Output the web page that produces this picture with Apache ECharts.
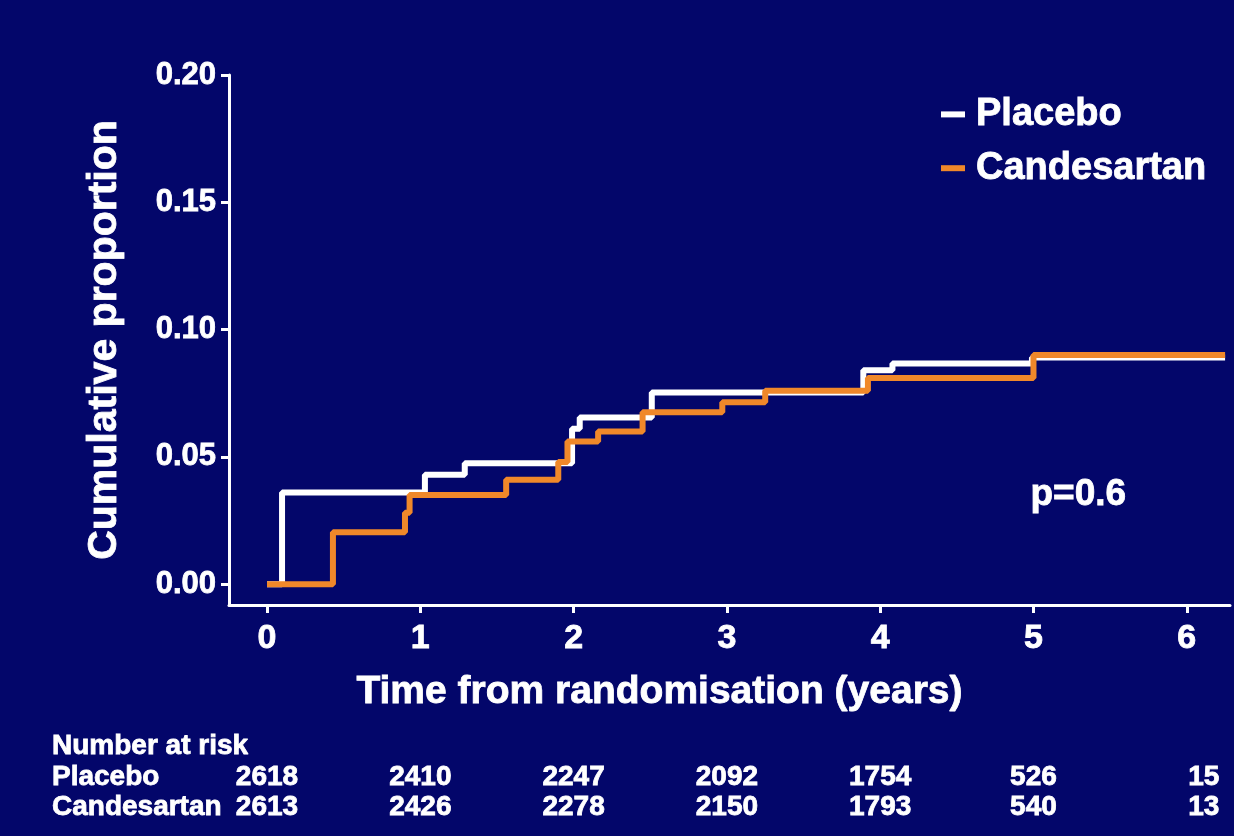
<!DOCTYPE html>
<html>
<head>
<meta charset="utf-8">
<title>Cumulative proportion – Placebo vs Candesartan</title>
<script src="https://cdn.jsdelivr.net/npm/echarts@6/dist/echarts.min.js"></script>
<style>
  html, body { margin: 0; padding: 0; background: #03066a; }
  #chart { width: 1234px; height: 836px; }
</style>
</head>
<body>
<div id="chart"></div>
<script>
// Kaplan–Meier style step curves: event time (years) and cumulative proportion
const placeboTimes = [0, 0.098, 1.03, 1.29, 1.99, 2.04, 2.51, 3.89, 4.08, 4.99, 6.25];
const placeboProp  = [0, 0.036, 0.043, 0.0475, 0.061, 0.0655, 0.0753, 0.084, 0.0867, 0.089, 0.089];

const candesartanTimes = [0, 0.43, 0.90, 0.93, 1.56, 1.90, 1.96, 2.16, 2.45, 2.97, 3.25, 3.92, 5.00, 6.25];
const candesartanProp  = [0, 0.0204, 0.028, 0.035, 0.041, 0.048, 0.056, 0.060, 0.0675, 0.0714, 0.076, 0.081, 0.090, 0.090];

// Axis ticks
const xTicks = [0, 1, 2, 3, 4, 5, 6];
const yTicks = [0, 0.05, 0.10, 0.15, 0.20];

// Number at risk table
const riskTimes = [0, 1, 2, 3, 4, 5, 6];
const riskPlacebo = [2618, 2410, 2247, 2092, 1754, 526, 15];
const riskCandesartan = [2613, 2426, 2278, 2150, 1793, 540, 13];

const seriesNames = ['Placebo', 'Candesartan'];
const pValueText = 'p=0.6';

const BG = '#03066a';
const WHITE = '#ffffff';
const ORANGE = '#f0882a';
const FONT = '"Liberation Sans", Arial, Helvetica, sans-serif';

const pairs = (xs, ys) => xs.map((x, i) => [x, ys[i]]);

const chart = echarts.init(document.getElementById('chart'), null, { renderer: 'canvas' });

// heavy white type: bold face plus a thin outline of the same colour
const heavy = { color: WHITE, fontWeight: 'bold', fontFamily: FONT, textBorderColor: WHITE, textBorderWidth: 0.8 };

chart.setOption({
  backgroundColor: BG,
  animation: false,
  textStyle: { fontFamily: FONT },
  grid: { left: 229, right: 4, top: 75, bottom: 231 },
  legend: {
    orient: 'vertical',
    left: 936,
    top: 90,
    itemGap: 15,
    itemWidth: 24,
    itemHeight: 6,
    icon: 'rect',
    data: seriesNames,
    textStyle: Object.assign({ fontSize: 38, padding: [0, 0, 0, 6] }, heavy)
  },
  xAxis: {
    type: 'value',
    min: -0.248,
    max: 6.282,
    axisLine: { onZero: false, lineStyle: { color: WHITE, width: 3 } },
    axisTick: { show: true, customValues: xTicks, length: 8, lineStyle: { color: WHITE, width: 3 } },
    axisLabel: Object.assign({
      customValues: xTicks, fontSize: 34, margin: 17,
      formatter: v => String(Math.round(v))
    }, heavy),
    splitLine: { show: false }
  },
  yAxis: {
    type: 'value',
    min: -0.0082,
    max: 0.2,
    axisLine: { show: true, onZero: false, lineStyle: { color: WHITE, width: 3 } },
    axisTick: { show: true, customValues: yTicks, length: 8, lineStyle: { color: WHITE, width: 3 } },
    axisLabel: Object.assign({
      customValues: yTicks, fontSize: 31, margin: 13,
      formatter: v => v.toFixed(2)
    }, heavy),
    splitLine: { show: false },
    name: 'Cumulative proportion',
    nameLocation: 'middle',
    nameGap: 104,
    nameTextStyle: Object.assign({ fontSize: 41 }, heavy)
  },
  series: [
    {
      name: seriesNames[0],
      type: 'line',
      step: 'end',
      showSymbol: false,
      color: WHITE,
      lineStyle: { color: WHITE, width: 6 },
      data: pairs(placeboTimes, placeboProp),
      z: 2
    },
    {
      name: seriesNames[1],
      type: 'line',
      step: 'end',
      showSymbol: false,
      color: ORANGE,
      lineStyle: { color: ORANGE, width: 6 },
      data: pairs(candesartanTimes, candesartanProp),
      z: 3
    }
  ]
});

// Texts placed from the axis scales: p-value, x-axis title and at-risk table
function textEl(text, x, y, size, align) {
  return {
    type: 'text',
    silent: true,
    style: {
      text, x, y,
      fill: WHITE,
      stroke: WHITE,
      lineWidth: 0.8,
      font: 'bold ' + size + 'px ' + FONT,
      align: align || 'left',
      verticalAlign: 'middle'
    }
  };
}

const xPix = t => chart.convertToPixel({ xAxisIndex: 0 }, t);
const yPix = v => chart.convertToPixel({ yAxisIndex: 0 }, v);

const graphics = [];
graphics.push(textEl(pValueText, xPix(5.0) - 3, yPix(0.035), 37, 'left'));
graphics.push(textEl('Time from randomisation (years)', xPix(2.56), 692, 39, 'center'));

graphics.push(textEl('Number at risk', 52, 746, 28, 'left'));
graphics.push(textEl(seriesNames[0], 52, 777, 28, 'left'));
graphics.push(textEl(seriesNames[1], 52, 807, 28, 'left'));
const lastColumnNudge = 17; // the final column sits a little right of its tick
riskTimes.forEach((t, i) => {
  const cx = xPix(t) + (i === riskTimes.length - 1 ? lastColumnNudge : 0);
  graphics.push(textEl(String(riskPlacebo[i]), cx, 777, 28, 'center'));
  graphics.push(textEl(String(riskCandesartan[i]), cx, 807, 28, 'center'));
});

chart.setOption({ graphic: graphics });
</script>
</body>
</html>
